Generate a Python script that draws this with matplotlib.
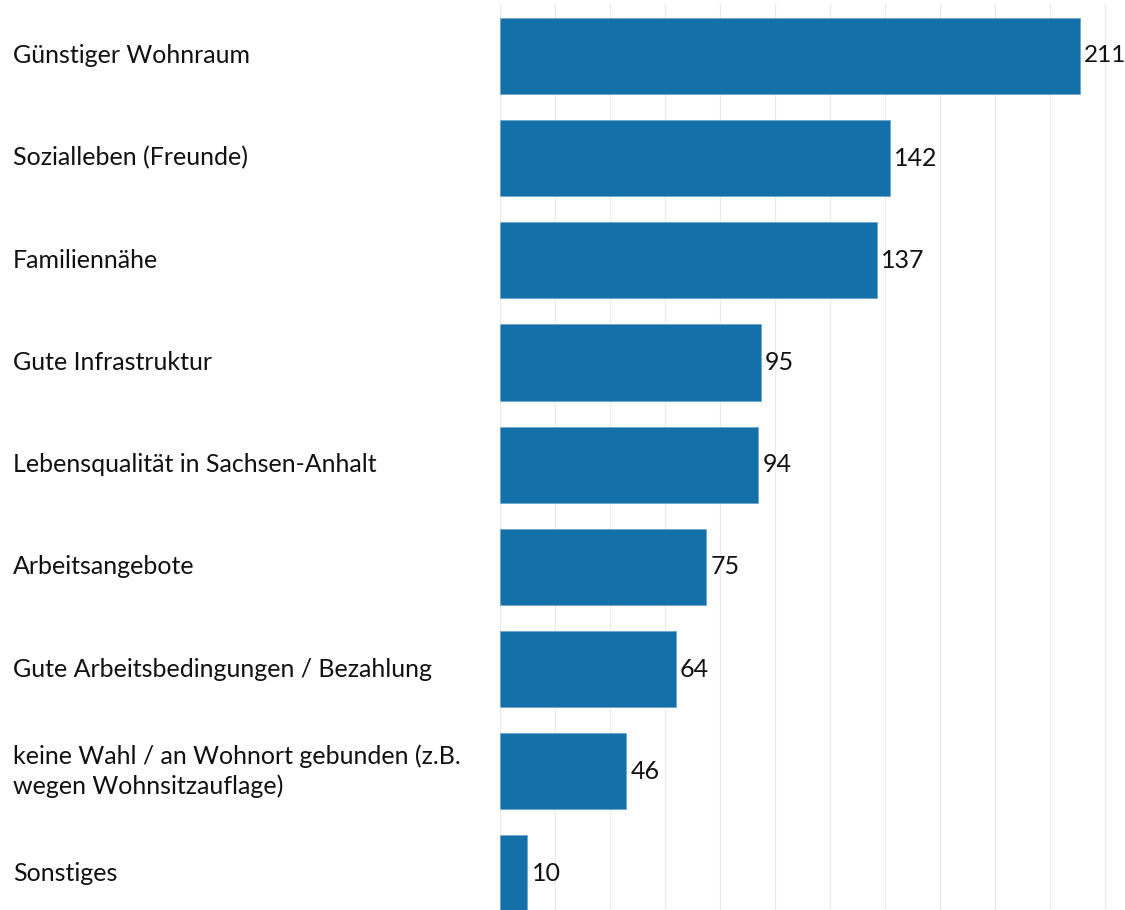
import matplotlib
matplotlib.use("Agg")
import matplotlib.pyplot as plt

categories = [
    "Günstiger Wohnraum",
    "Sozialleben (Freunde)",
    "Familiennähe",
    "Gute Infrastruktur",
    "Lebensqualität in Sachsen-Anhalt",
    "Arbeitsangebote",
    "Gute Arbeitsbedingungen / Bezahlung",
    "keine Wahl / an Wohnort gebunden (z.B.\nwegen Wohnsitzauflage)",
    "Sonstiges",
]
values = [211, 142, 137, 95, 94, 75, 64, 46, 10]
grid_ticks = list(range(0, 221, 20))

W, H = 1125, 910
fig = plt.figure(figsize=(W / 100, H / 100), dpi=100)
fig.patch.set_facecolor("white")
ax = fig.add_axes([500 / W, 0, (W - 500) / W, (910 - 4) / H])

ypos = list(range(len(categories)))
ax.barh(ypos, values, height=0.745, color="#1370A9", edgecolor="#6FA6CC",
        linewidth=0.6, zorder=3)

ax.set_xlim(0, 227.4)
ax.set_ylim(8.357, -0.508)
ax.set_xticks(grid_ticks)
ax.grid(axis="x", color="#EBEBEB", linewidth=1.0, zorder=0)
ax.tick_params(left=False, bottom=False, labelbottom=False, labelleft=False)
for s in ax.spines.values():
    s.set_visible(False)

font = "Lato"
fs = 18
for y, v in zip(ypos, values):
    ax.annotate(str(v), xy=(v, y), xytext=(4, 0), textcoords="offset pixels",
                va="center", ha="left", fontsize=fs if v != 211 else 17.5,
                family=font, color="#111111", zorder=4)

for y, lab in zip(ypos, categories):
    ax.annotate(lab, xy=(0, y), xycoords=("axes fraction", "data"),
                xytext=(13 - 500, 0), textcoords="offset pixels",
                ha="left", va="center", fontsize=fs, family=font,
                color="#111111", linespacing=1.3, annotation_clip=False)

fig.savefig("out.png", dpi=100, facecolor="white")
